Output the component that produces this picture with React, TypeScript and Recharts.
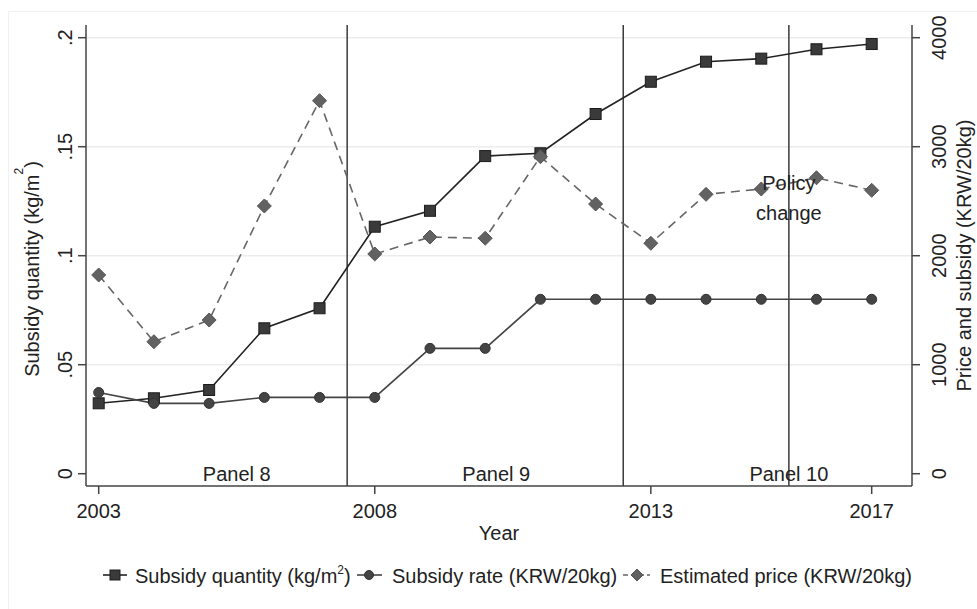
import React from "react";
import {
  ComposedChart,
  Line,
  XAxis,
  YAxis,
  CartesianGrid,
  ReferenceLine,
  ReferenceDot,
} from "recharts";

const years = [2003, 2004, 2005, 2006, 2007, 2008, 2009, 2010, 2011, 2012, 2013, 2014, 2015, 2016, 2017];
// left axis, kg/m2
const subsidyQuantity = [0.0323, 0.0346, 0.0384, 0.0667, 0.0759, 0.1133, 0.1206, 0.1457, 0.147, 0.165, 0.1798, 0.189, 0.1904, 0.1947, 0.1971];
// right axis, KRW/20kg
const subsidyRate = [745, 645, 645, 700, 700, 700, 1150, 1150, 1600, 1600, 1600, 1600, 1600, 1600, 1600];
const estimatedPrice = [1823, 1211, 1410, 2456, 3422, 2016, 2171, 2160, 2908, 2474, 2114, 2563, 2612, 2715, 2600];

const yearTicks = [2003, 2008, 2013, 2017];
const leftTicks = [0, 0.05, 0.1, 0.15, 0.2];
const leftTickLabels = ["0", ".05", ".1", ".15", ".2"];
const rightTicks = [0, 1000, 2000, 3000, 4000];
const panelBreaks = [2007.5, 2012.5, 2015.5];
const panelNames = ["Panel 8", "Panel 9", "Panel 10"];
const panelCenters = [2005.5, 2010.2, 2015.5];

const data = years.map((year, i) => ({
  year,
  quantity: subsidyQuantity[i],
  rate: subsidyRate[i],
  price: estimatedPrice[i],
}));

const FONT = "'Liberation Sans', Arial, sans-serif";
const INK = "#222";
const AXIS = "#444";

const renderSquare = (p: any) => {
  if (p.cx == null || p.cy == null) return <g key={`q${p.index}`} />;
  return (
    <rect key={`q${p.index}`} x={p.cx - 5.5} y={p.cy - 5.5} width={11} height={11}
      fill="#3a3a3a" stroke="#1c1c1c" strokeWidth={1} />
  );
};

const renderCircle = (p: any) => {
  if (p.cx == null || p.cy == null) return <g key={`r${p.index}`} />;
  return <circle key={`r${p.index}`} cx={p.cx} cy={p.cy} r={5} fill="#444" stroke="#333" strokeWidth={1} />;
};

const renderDiamond = (p: any) => {
  if (p.cx == null || p.cy == null) return <g key={`p${p.index}`} />;
  const { cx, cy } = p;
  const h = 7;
  return (
    <polygon key={`p${p.index}`} points={`${cx},${cy - h} ${cx + h},${cy} ${cx},${cy + h} ${cx - h},${cy}`}
      fill="#626262" stroke="#555" strokeWidth={1} />
  );
};

const RotTick = (props: any) => {
  const { x, y, payload, labels } = props;
  const idx = leftTicks.indexOf(payload.value);
  const txt = labels && idx >= 0 ? leftTickLabels[idx] : String(payload.value);
  return (
    <text x={x} y={y} transform={`rotate(-90 ${x} ${y})`} textAnchor="middle"
      fontSize={20} fontFamily={FONT} fill={INK}>
      {txt}
    </text>
  );
};

const YearTick = (props: any) => {
  const { x, y, payload } = props;
  return (
    <text x={x} y={y} dy={14} textAnchor="middle" fontSize={20} fontFamily={FONT} fill={INK}>
      {payload.value}
    </text>
  );
};

const LeftTitle = (p: any) => {
  const vb = p.viewBox ?? { x: 16, y: 25, width: 70, height: 461 };
  const x = vb.x + 23;
  const y = vb.y + vb.height / 2 + 13.5;
  return (
    <text x={x} y={y} transform={`rotate(-90 ${x} ${y})`} textAnchor="middle"
      fontSize={20} fontFamily={FONT} fill={INK}>
      Subsidy quantity (kg/m
      <tspan dy={-16} fontSize={12}>2</tspan>
      <tspan dy={16}>)</tspan>
    </text>
  );
};

const RightTitle = (p: any) => {
  const vb = p.viewBox ?? { x: 912, y: 25, width: 64, height: 461 };
  const x = vb.x + 59;
  const y = vb.y + vb.height / 2;
  return (
    <text x={x} y={y} transform={`rotate(-90 ${x} ${y})`} textAnchor="middle"
      fontSize={20} fontFamily={FONT} fill={INK}>
      Price and subsidy (KRW/20kg)
    </text>
  );
};

const XTitle = (p: any) => {
  const vb = p.viewBox ?? { x: 86, y: 486, width: 826, height: 60 };
  return (
    <text x={vb.x + vb.width / 2} y={vb.y + 54} textAnchor="middle"
      fontSize={20} fontFamily={FONT} fill={INK}>
      Year
    </text>
  );
};

function LegendRow() {
  const t = { fontSize: 20, fontFamily: FONT, fill: INK } as const;
  return (
    <svg width={977} height={50} style={{ position: "absolute", left: 0, top: 552 }}>
      <g transform="translate(0,23)">
        <line x1={103} x2={127} y1={0} y2={0} stroke="#222" strokeWidth={1.6} />
        <rect x={110} y={-5} width={10} height={10} fill="#3a3a3a" stroke="#1c1c1c" />
        <text x={135} y={8} {...t}>
          Subsidy quantity (kg/m
          <tspan dy={-9} fontSize={12}>2</tspan>
          <tspan dy={9}>)</tspan>
        </text>
        <line x1={357} x2={382} y1={0} y2={0} stroke="#444" strokeWidth={1.6} />
        <circle cx={369} cy={0} r={4.5} fill="#444" stroke="#333" />
        <text x={392} y={8} {...t}>Subsidy rate (KRW/20kg)</text>
        <line x1={623} x2={650} y1={0} y2={0} stroke="#666" strokeWidth={1.6} strokeDasharray="5 3" />
        <polygon points="637,-6 643,0 637,6 631,0" fill="#626262" stroke="#555" />
        <text x={660} y={8} {...t}>Estimated price (KRW/20kg)</text>
      </g>
    </svg>
  );
}

export default function App() {
  return (
    <div style={{ position: "absolute", left: 0, top: 0, width: 977, height: 609, background: "#fff" }}>
      <div style={{ position: "absolute", left: 8, top: 11, width: 968, height: 597, border: "1px solid #f1f1f1", borderRight: "none", borderBottom: "none" }} />
      <ComposedChart
        width={977}
        height={609}
        data={data}
        margin={{ top: 25, right: 1, bottom: 63, left: 16 }}
        style={{ position: "absolute", left: 0, top: 0 }}
      >
        <CartesianGrid yAxisId="left" vertical={false} horizontalValues={[0.05, 0.1, 0.15, 0.2]}
          stroke="#ececec" strokeWidth={1.5} />
        <XAxis
          dataKey="year"
          type="number"
          domain={[2002.77, 2017.73]}
          allowDataOverflow
          ticks={yearTicks}
          tick={<YearTick />}
          tickSize={8}
          tickMargin={10}
          height={60}
          axisLine={{ stroke: AXIS, strokeWidth: 1.5 }}
          tickLine={{ stroke: AXIS, strokeWidth: 1.5 }}
          label={XTitle}
        />
        <YAxis
          yAxisId="left"
          orientation="left"
          domain={[-0.00564, 0.20583]}
          allowDataOverflow
          ticks={leftTicks}
          tick={<RotTick labels />}
          tickSize={8}
          tickMargin={6}
          width={70}
          axisLine={{ stroke: AXIS, strokeWidth: 1.5 }}
          tickLine={{ stroke: AXIS, strokeWidth: 1.5 }}
          label={LeftTitle}
        />
        <YAxis
          yAxisId="right"
          orientation="right"
          domain={[-112.8, 4116.5]}
          allowDataOverflow
          ticks={rightTicks}
          tick={<RotTick />}
          tickSize={8}
          tickMargin={26}
          width={64}
          axisLine={{ stroke: AXIS, strokeWidth: 1.5 }}
          tickLine={{ stroke: AXIS, strokeWidth: 1.5 }}
          label={RightTitle}
        />
        {panelBreaks.map((b) => (
          <ReferenceLine key={b} x={b} yAxisId="left" stroke="#3a3a3a" strokeWidth={1.5} />
        ))}
        {panelNames.map((name, i) => (
          <ReferenceDot key={name} x={panelCenters[i]} y={0} yAxisId="left" r={0} fill="none" stroke="none"
            label={{ value: name, position: "center", fontSize: 20, fontFamily: FONT, fill: INK }} />
        ))}
        <ReferenceDot x={2015.5} y={2667} yAxisId="right" r={0} fill="none" stroke="none"
          label={{ value: "Policy", position: "center", fontSize: 20, fontFamily: FONT, fill: INK }} />
        <ReferenceDot x={2015.5} y={2392} yAxisId="right" r={0} fill="none" stroke="none"
          label={{ value: "change", position: "center", fontSize: 20, fontFamily: FONT, fill: INK }} />
        <Line yAxisId="left" type="linear" dataKey="quantity" stroke="#222" strokeWidth={1.6}
          dot={renderSquare} activeDot={false} isAnimationActive={false} />
        <Line yAxisId="right" type="linear" dataKey="rate" stroke="#444" strokeWidth={1.6}
          dot={renderCircle} activeDot={false} isAnimationActive={false} />
        <Line yAxisId="right" type="linear" dataKey="price" stroke="#666" strokeWidth={1.6}
          strokeDasharray="9 6" dot={renderDiamond} activeDot={false} isAnimationActive={false} />
      </ComposedChart>
      <LegendRow />
    </div>
  );
}
